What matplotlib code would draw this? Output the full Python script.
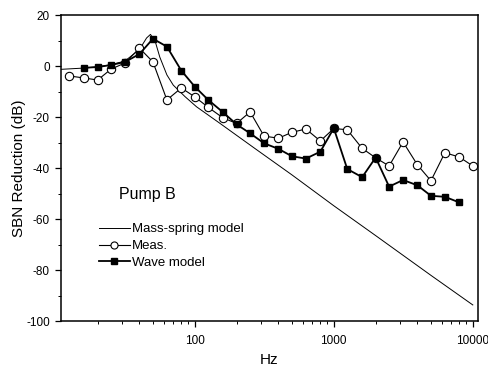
"""SBN reduction, pump B: mass-spring model vs measurement vs wave model"""
import matplotlib
matplotlib.use('Agg')
import matplotlib.pyplot as plt
from matplotlib.ticker import FixedLocator, FuncFormatter, LogLocator, MultipleLocator, NullFormatter

plt.rcParams['font.family'] = ['Liberation Sans', 'DejaVu Sans']
plt.rcParams['axes.unicode_minus'] = False

ms_freq = [10.9, 16, 20, 25, 31.5, 40, 45, 48, 52, 56, 63, 70, 85, 103, 150, 270, 500, 1000, 2000, 5000, 10000]
ms_db = [-1.3, -0.8, -0.3, 0.5, 2.0, 6.5, 11.0, 12.4, 9.5, 3.5, -3.5, -7.5, -12.0, -16.0, -22.3, -32.3, -42.7,
         -54.8, -66.5, -82.1, -93.7]

# measurement, 1/3 octave bands
meas_freq = [12.5, 16, 20, 25, 31.5, 40, 50, 63, 80, 100, 125, 160, 200, 250, 315, 400, 500, 630, 800, 1000,
             1250, 1600, 2000, 2500, 3150, 4000, 5000, 6300, 8000, 10000]
meas_db = [-3.9, -4.7, -5.5, -1.2, 1.2, 7.0, 1.6, -13.3, -8.6, -12.1, -16.2, -20.4, -22.5, -18.0, -27.5, -28.3,
           -26.0, -24.7, -29.4, -24.5, -25.0, -32.3, -36.0, -39.2, -29.8, -38.8, -45.0, -34.0, -35.7, -39.2]

# wave model
wave_freq = [16, 20, 25, 31.5, 40, 50, 63, 80, 100, 125, 160, 200, 250, 315, 400, 500, 630, 800, 1000,
             1250, 1600, 2000, 2500, 3150, 4000, 5000, 6300, 8000]
wave_db = [-0.7, -0.4, 0.4, 1.6, 4.7, 10.7, 7.6, -1.8, -8.1, -13.3, -18.2, -22.9, -26.4, -30.3, -32.5, -35.4,
           -36.3, -33.6, -24.4, -40.4, -43.6, -35.9, -47.3, -44.7, -46.8, -50.9, -51.3, -53.5]

fig = plt.figure(figsize=(4.88, 3.68), dpi=100)
ax = fig.add_axes([0.125, 0.1277, 0.8545, 0.8315])

ax.plot(ms_freq, ms_db, color='black', lw=0.7, label='Mass-spring model')
ax.plot(meas_freq, meas_db, color='black', lw=0.8, marker='o', ms=6, mfc='white', mec='black', mew=0.8,
        label='Meas.')
ax.plot(wave_freq, wave_db, color='black', lw=1.3, marker='s', ms=5, mfc='black', mec='black',
        label='Wave model')

ax.set_xscale('log')
ax.set_xlim(10.9, 10900)
ax.set_ylim(-100, 20)

ax.xaxis.set_major_locator(FixedLocator([100, 1000, 10000]))
ax.xaxis.set_major_formatter(FuncFormatter(lambda v, p: '%d' % v))
ax.xaxis.set_minor_locator(LogLocator(base=10, subs=range(2, 10)))
ax.xaxis.set_minor_formatter(NullFormatter())
ax.yaxis.set_major_locator(MultipleLocator(20))
ax.yaxis.set_minor_locator(MultipleLocator(10))

ax.tick_params(which='major', direction='out', length=4, width=0.9, labelsize=8.5, pad=4)
ax.tick_params(which='minor', direction='out', length=2.5, width=0.7)
ax.tick_params(axis='x', which='major', pad=6)
for s in ax.spines.values():
    s.set_linewidth(1.1)

ax.set_xlabel('Hz', fontsize=11)
ax.set_ylabel('SBN Reduction (dB)', fontsize=11)
ax.xaxis.set_label_coords(0.5, -0.105)
ax.yaxis.set_label_coords(-0.085, 0.5)

ax.text(0.139, 0.412, 'Pump B', transform=ax.transAxes, fontsize=11.5, va='center', ha='left')

ax.legend(loc='upper left', bbox_to_anchor=(0.09, 0.32), frameon=False, fontsize=9.5, handlelength=2.4,
          handletextpad=0.15, labelspacing=0.35, borderpad=0, borderaxespad=0, markerscale=0.85)

fig.savefig('out.png', dpi=100)
